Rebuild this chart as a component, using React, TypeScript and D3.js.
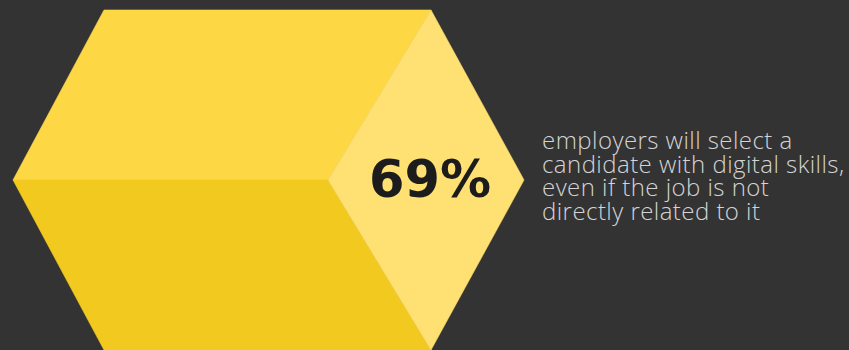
import React, { useEffect, useRef } from "react";
import * as d3 from "d3";

const percentValue = [69];
const descriptionLines = [
  "employers will select a",
  "candidate with digital skills,",
  "even if the job is not",
  "directly related to it",
];

const W = 849;
const H = 350;

export default function App() {
  const ref = useRef<SVGSVGElement | null>(null);

  useEffect(() => {
    const svg = d3.select(ref.current);
    svg.selectAll("*").remove();

    svg.append("rect").attr("width", W).attr("height", H).attr("fill", "#333333");

    const x = d3.scaleLinear().domain([0, 1]).range([13, 524]);
    const y = d3.scaleLinear().domain([0, 1]).range([10, 350]);
    const xl = 104, xr = 431, xi = 328;
    const line = d3.line<[number, number]>().curve(d3.curveLinearClosed);

    const top: [number, number][] = [[x(0), y(0.5)], [xl, y(0)], [xr, y(0)], [xi, y(0.5)]];
    const bottom: [number, number][] = [[x(0), y(0.5)], [xi, y(0.5)], [xr, y(1)], [xl, y(1)]];
    const right: [number, number][] = [[xr, y(0)], [x(1), y(0.5)], [xr, y(1)], [xi, y(0.5)]];

    svg.append("path").attr("d", line(top)).attr("fill", "#FED844").attr("stroke", "#FED844").attr("stroke-width", 0.6);
    svg.append("path").attr("d", line(bottom)).attr("fill", "#F2C91F").attr("stroke", "#F2C91F").attr("stroke-width", 0.6);
    svg.append("path").attr("d", line(right)).attr("fill", "#FFE072").attr("stroke", "#FFE072").attr("stroke-width", 0.6);

    svg
      .append("text")
      .attr("x", 430)
      .attr("y", 197)
      .attr("text-anchor", "middle")
      .attr("font-family", "DejaVu Sans")
      .attr("font-weight", "bold")
      .attr("font-size", 51)
      .attr("fill", "#1c1c1c")
      .text(`${percentValue[0]}%`);

    descriptionLines.forEach((s, i) => {
      svg
        .append("text")
        .attr("x", 542)
        .attr("y", 149 + i * 23.5)
        .attr("font-family", "'Open Sans', Lato, sans-serif")
        .attr("font-weight", 300)
        .attr("font-size", 24)
        .attr("letter-spacing", 0.45)
        .attr("fill", "#d4d4d4")
        .text(s);
    });
  }, []);

  return (
    <svg
      ref={ref}
      width={W}
      height={H}
      style={{ position: "absolute", left: 0, top: 0, display: "block" }}
    />
  );
}
